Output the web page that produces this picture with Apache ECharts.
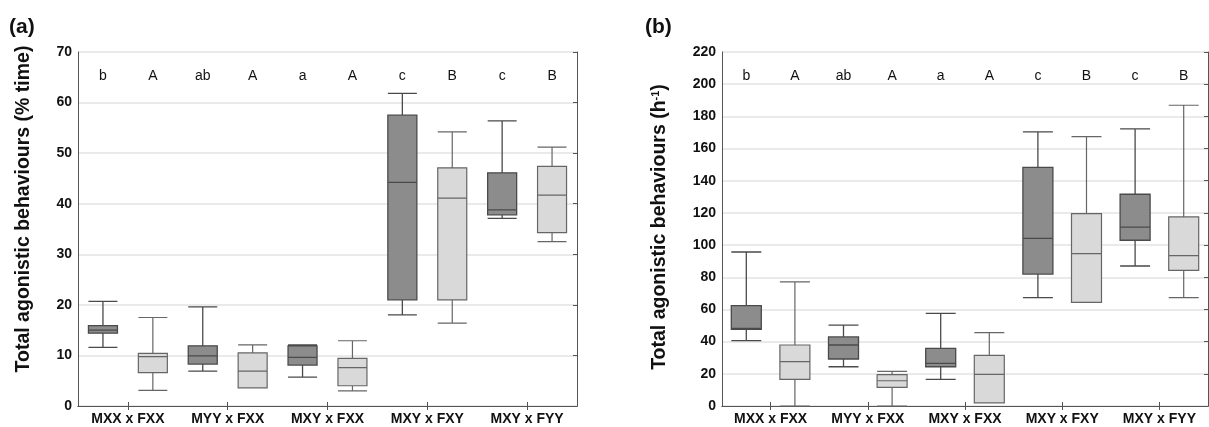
<!DOCTYPE html>
<html>
<head>
<meta charset="utf-8">
<script src="https://cdn.jsdelivr.net/npm/echarts@6/dist/echarts.min.js"></script>
<style>
html,body{margin:0;padding:0;background:#fff;}
#chart{width:1209px;height:427px;}
</style>
</head>
<body>
<div id="chart"></div>
<script>
// ---- data ----
const categories = ['MXX x FXX', 'MYY x FXX', 'MXY x FXX', 'MXY x FXY', 'MXY x FYY'];
// each box: [min, Q1, median, Q3, max]
const aMales = [
  [11.6, 14.4, 15.0, 15.9, 20.7],
  [6.9, 8.3, 9.9, 11.9, 19.6],
  [5.7, 8.1, 9.6, 11.9, 12.1],
  [18.0, 21.0, 44.2, 57.5, 61.8],
  [37.1, 37.8, 38.8, 46.1, 56.4]
];
const aFemales = [
  [3.1, 6.6, 9.75, 10.4, 17.5],
  [3.6, 3.6, 6.9, 10.5, 12.1],
  [3.0, 4.0, 7.6, 9.4, 12.9],
  [16.4, 21.0, 41.1, 47.1, 54.2],
  [32.5, 34.3, 41.7, 47.4, 51.2]
];
const bMales = [
  [40.6, 47.6, 48.3, 62.4, 95.7],
  [24.4, 29.2, 37.9, 42.9, 50.3],
  [16.6, 24.4, 26.5, 35.8, 57.6],
  [67.3, 82.0, 104.2, 148.3, 170.3],
  [87.0, 103.0, 111.2, 131.6, 172.2]
];
const bFemales = [
  [0, 16.6, 27.6, 37.9, 77.1],
  [0, 11.6, 15.7, 19.5, 21.5],
  [2.0, 2.0, 19.7, 31.5, 45.6],
  [64.4, 64.4, 94.7, 119.5, 167.4],
  [67.3, 84.3, 93.4, 117.5, 186.9]
];
const lettersA = ['b', 'A', 'ab', 'A', 'a', 'A', 'c', 'B', 'c', 'B'];
const lettersB = ['b', 'A', 'ab', 'A', 'a', 'A', 'c', 'B', 'c', 'B'];
const yTicksA = {min: 0, max: 70, interval: 10};
const yTicksB = {min: 0, max: 220, interval: 20};

// ---- styles ----
const FONT = "'Liberation Sans', Arial, sans-serif";
const frameColor = '#555';
const darkStyle = {color: '#8c8c8c', borderColor: '#4a4a4a', borderWidth: 1.3};
const lightStyle = {color: '#d9d9d9', borderColor: '#666666', borderWidth: 1.2};

function interleave(m, f) {
  const out = [];
  for (let i = 0; i < m.length; i++) {
    out.push({value: m[i], itemStyle: darkStyle});
    out.push({value: f[i], itemStyle: lightStyle});
  }
  return out;
}
const halfCats = [];
for (let i = 0; i < 10; i++) halfCats.push('c' + i);

function axesFor(gi, letters, yt) {
  const xs = [
    { // bottom labels
      type: 'category', gridIndex: gi, position: 'bottom', data: categories,
      boundaryGap: true,
      axisLine: {show: true, lineStyle: {color: frameColor, width: 1}},
      axisTick: {show: true, inside: true, alignWithLabel: true, length: 4, lineStyle: {color: frameColor}},
      axisLabel: {fontFamily: FONT, fontWeight: 'bold', fontSize: 14, color: '#111', margin: 6},
      splitLine: {show: false}
    },
    { // top frame
      type: 'category', gridIndex: gi, position: 'top', data: categories,
      boundaryGap: true,
      axisLine: {show: true, lineStyle: {color: frameColor, width: 1}},
      axisTick: {show: true, inside: true, alignWithLabel: true, length: 4, lineStyle: {color: frameColor}},
      axisLabel: {show: false},
      splitLine: {show: false}
    },
    { // half-category axis for boxes
      type: 'category', gridIndex: gi, position: 'bottom', data: halfCats,
      show: false, boundaryGap: true
    },
    { // letters inside top
      type: 'category', gridIndex: gi, position: 'top', data: letters,
      boundaryGap: true,
      axisLine: {show: false}, axisTick: {show: false}, splitLine: {show: false},
      axisLabel: {inside: true, margin: 17, fontFamily: FONT, fontSize: 14, color: '#111'}
    }
  ];
  const ys = [
    {
      type: 'value', gridIndex: gi, position: 'left', min: yt.min, max: yt.max, interval: yt.interval,
      axisLine: {show: true, lineStyle: {color: frameColor, width: 1}},
      axisTick: {show: false},
      axisLabel: {fontFamily: FONT, fontWeight: 'bold', fontSize: 14, color: '#111', margin: 6},
      splitLine: {show: true, lineStyle: {color: '#e3e3e3', width: 1.5}}
    },
    {
      type: 'value', gridIndex: gi, position: 'right', min: yt.min, max: yt.max, interval: yt.interval,
      axisLine: {show: true, lineStyle: {color: frameColor, width: 1}},
      axisTick: {show: true, inside: true, length: 4, lineStyle: {color: frameColor}},
      axisLabel: {show: false},
      splitLine: {show: false}
    }
  ];
  return {xs, ys};
}

const A = axesFor(0, lettersA, yTicksA);
const B = axesFor(1, lettersB, yTicksB);

const option = {
  animation: false,
  backgroundColor: '#fff',
  grid: [
    {left: 78, top: 52, width: 499, height: 354, containLabel: false, outerBoundsMode: 'none'},
    {left: 722, top: 52, width: 486, height: 354, containLabel: false, outerBoundsMode: 'none'}
  ],
  xAxis: A.xs.concat(B.xs),
  yAxis: A.ys.concat(B.ys),
  series: [
    {
      type: 'boxplot', xAxisIndex: 2, yAxisIndex: 0,
      boxWidth: [29, 29],
      data: interleave(aMales, aFemales)
    },
    {
      type: 'boxplot', xAxisIndex: 6, yAxisIndex: 2,
      boxWidth: [30, 30],
      data: interleave(bMales, bFemales)
    }
  ],
  graphic: [
    {type: 'text', left: 9, top: 17, style: {text: '(a)', font: 'bold 21px ' + FONT, fill: '#111'}},
    {type: 'text', left: 645, top: 17, style: {text: '(b)', font: 'bold 21px ' + FONT, fill: '#111'}},
    {
      type: 'text', x: 24, y: 209, rotation: Math.PI / 2,
      style: {text: 'Total agonistic behaviours (% time)', font: 'bold 19.5px ' + FONT, fill: '#111',
              align: 'center', verticalAlign: 'middle'}
    },
    {
      type: 'text', x: 660, y: 227, rotation: Math.PI / 2,
      style: {
        text: 'Total agonistic behaviours (h{sup|-1})', font: 'bold 19.5px ' + FONT, fill: '#111',
        align: 'center', verticalAlign: 'middle',
        rich: {sup: {fontSize: 11, fontWeight: 'bold', fontFamily: FONT, fill: '#111', verticalAlign: 'top', padding: [0, 0, 9, 0]}}
      }
    }
  ]
};

const chart = echarts.init(document.getElementById('chart'), null, {renderer: 'canvas'});
chart.setOption(option);
</script>
</body>
</html>
